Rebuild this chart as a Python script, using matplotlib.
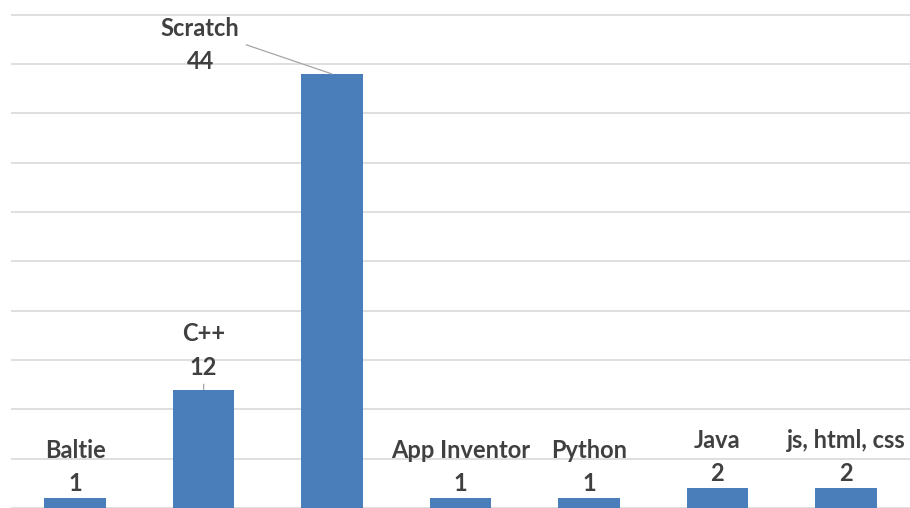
import matplotlib.pyplot as plt

languages = ["Baltie", "C++", "Scratch", "App Inventor", "Python", "Java", "js, html, css"]
counts = [1, 12, 44, 1, 1, 2, 2]

bar_color = "#4a7ebb"
text_color = "#404040"

fig = plt.figure(figsize=(9.10, 5.08), dpi=100)
ax = fig.add_axes([11 / 910, 0, 1 - 11 / 910, 1])

x = list(range(len(languages)))
ax.bar(x, counts, width=0.48, color=bar_color, zorder=2)

ax.set_xlim(-0.5, len(languages) - 0.5)
ax.set_ylim(0.45, 51.5)
ax.set_yticks(range(0, 55, 5))
ax.grid(axis="y", color="#d9d9d9", linewidth=1.2, zorder=0)
ax.tick_params(left=False, bottom=False, labelleft=False, labelbottom=False)
for s in ax.spines.values():
    s.set_visible(False)

font = dict(family=["Lato", "DejaVu Sans"], fontsize=17, fontweight="bold",
            color=text_color, ha="center", va="bottom", linespacing=1.55)

for i, (name, val) in enumerate(zip(languages, counts)):
    label = f"{name}\n{val}"
    if name == "Scratch":
        ax.annotate(label, xy=(i, val), xytext=(-132, 1), textcoords="offset pixels",
                    arrowprops=dict(arrowstyle="-", color="#a6a6a6", lw=0.9,
                                    shrinkA=3, shrinkB=0, relpos=(1.0, 0.54)),
                    **font)
    elif name == "C++":
        ax.annotate(label, xy=(i, val), xytext=(0, 11), textcoords="offset pixels",
                    arrowprops=dict(arrowstyle="-", color="#a6a6a6", lw=0.9,
                                    shrinkA=2, shrinkB=0, relpos=(0.5, 0.0)),
                    **font)
    else:
        ax.annotate(label, xy=(i, val), xytext=(0, 3), textcoords="offset pixels", **font)

fig.savefig("out.png", dpi=100)
